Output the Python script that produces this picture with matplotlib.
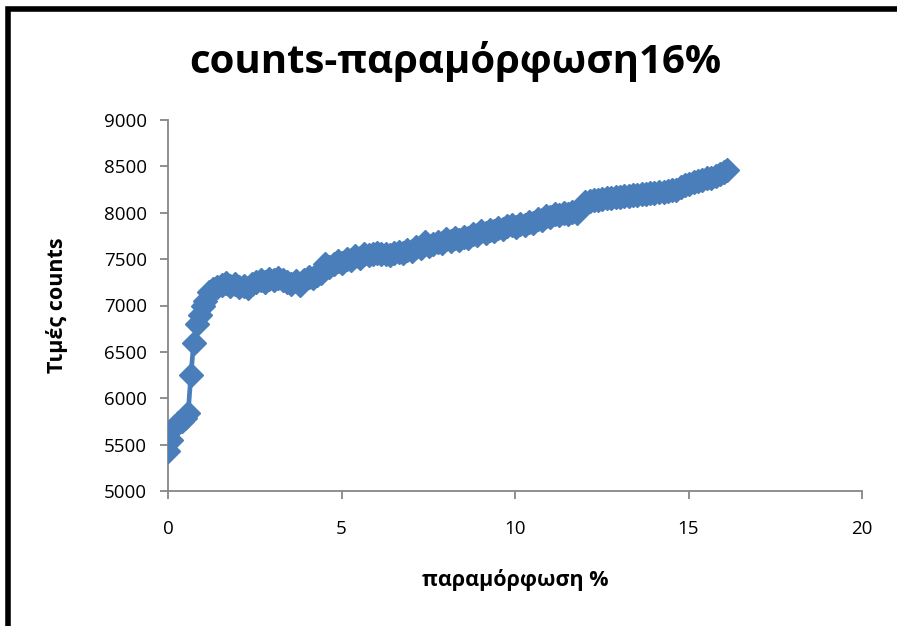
import matplotlib
matplotlib.use("Agg")
import matplotlib.pyplot as plt
from matplotlib.patches import Rectangle

# strain (%) and measured counts
strain = [0.00, 0.10, 0.20, 0.30, 0.40, 0.50, 0.58, 0.66, 0.74, 0.84, 0.92, 1.00,
          1.08, 1.18, 1.30, 1.42, 1.55, 1.68, 1.80, 1.93, 2.05, 2.18, 2.30, 2.42,
          2.55, 2.68, 2.80, 2.92, 3.05, 3.18, 3.30, 3.42, 3.55, 3.68, 3.80, 3.92,
          4.05, 4.18, 4.30, 4.42, 4.52, 4.65, 4.78, 4.90, 5.02, 5.15, 5.28, 5.40,
          5.52, 5.65, 5.78, 5.90, 6.02, 6.15, 6.28, 6.40, 6.52, 6.65, 6.78, 6.90,
          7.02, 7.15, 7.28, 7.40, 7.52, 7.65, 7.78, 7.90, 8.02, 8.15, 8.28, 8.40,
          8.52, 8.65, 8.78, 8.90, 9.02, 9.15, 9.28, 9.40, 9.52, 9.65, 9.78, 9.90,
          10.02, 10.15, 10.28, 10.40, 10.52, 10.65, 10.78, 10.90, 11.02, 11.15,
          11.28, 11.40, 11.52, 11.65, 11.78, 11.90, 12.02, 12.15, 12.28, 12.40,
          12.52, 12.65, 12.78, 12.90, 13.02, 13.15, 13.28, 13.40, 13.52, 13.65,
          13.78, 13.90, 14.02, 14.15, 14.28, 14.40, 14.52, 14.65, 14.78, 14.90,
          15.02, 15.15, 15.28, 15.40, 15.52, 15.65, 15.78, 15.90, 16.02, 16.12]
counts = [5430, 5550, 5700, 5730, 5760, 5790, 5840, 6250, 6600, 6800, 6900, 6990,
          7050, 7150, 7180, 7200, 7220, 7240, 7210, 7230, 7200, 7210, 7190, 7230,
          7250, 7270, 7250, 7290, 7270, 7300, 7270, 7250, 7230, 7260, 7220, 7270,
          7310, 7300, 7330, 7350, 7450, 7420, 7450, 7480, 7460, 7500, 7490, 7530,
          7510, 7560, 7540, 7550, 7570, 7550, 7560, 7540, 7570, 7580, 7570, 7600,
          7590, 7630, 7620, 7680, 7640, 7660, 7690, 7670, 7720, 7700, 7730, 7710,
          7740, 7730, 7770, 7760, 7800, 7780, 7810, 7800, 7840, 7820, 7860, 7870,
          7850, 7880, 7870, 7900, 7890, 7930, 7920, 7970, 7950, 7990,
          7980, 8000, 7990, 8010, 8000, 8060, 8120, 8130, 8140, 8140,
          8150, 8160, 8160, 8170, 8170, 8180, 8180, 8190, 8190, 8200,
          8200, 8210, 8210, 8220, 8220, 8230, 8240, 8240, 8280, 8300,
          8310, 8330, 8340, 8350, 8370, 8380, 8400, 8420, 8440, 8460]

x_ticks = [0, 5, 10, 15, 20]
y_ticks = [5000, 5500, 6000, 6500, 7000, 7500, 8000, 8500, 9000]

title = "counts-παραμόρφωση16%"
x_label = "παραμόρφωση %"
y_label = "Τιμές counts"

plt.rcParams["font.family"] = ["Open Sans", "DejaVu Sans"]

fig = plt.figure(figsize=(8.97, 6.26), dpi=100)
ax = fig.add_axes([168 / 897, 1 - 491 / 626, (862 - 168) / 897, (491 - 120) / 626])

blue = "#4A7EBB"
ax.plot(strain, counts, color=blue, linewidth=3.4, marker="D", markersize=12,
        markerfacecolor=blue, markeredgecolor=blue, zorder=3)

ax.set_xlim(0, 20)
ax.set_ylim(5000, 9000)
ax.set_xticks(x_ticks)
ax.set_yticks(y_ticks)

for side in ("top", "right"):
    ax.spines[side].set_visible(False)
for side in ("left", "bottom"):
    ax.spines[side].set_color("#868686")
    ax.spines[side].set_linewidth(1.3)

ax.tick_params(axis="both", colors="#868686", length=6, width=1.3, labelcolor="black",
               labelsize=13.5)
ax.tick_params(axis="x", pad=15)
ax.tick_params(axis="y", pad=9)

ax.set_xlabel(x_label, fontsize=15.5, fontweight="bold", labelpad=22)
ax.set_ylabel(y_label, fontsize=15.5, fontweight="bold", labelpad=26)

fig.text(455 / 897, 1 - 62 / 626, title, ha="center", va="center",
         fontsize=29, fontweight="bold")

# outer chart frame
fig.patches.append(Rectangle((7.5 / 897, -0.05), 1.2, 1 - 9.5 / 626 + 0.05,
                             transform=fig.transFigure, fill=False,
                             edgecolor="black", linewidth=4))

fig.savefig("out.png", dpi=100)
